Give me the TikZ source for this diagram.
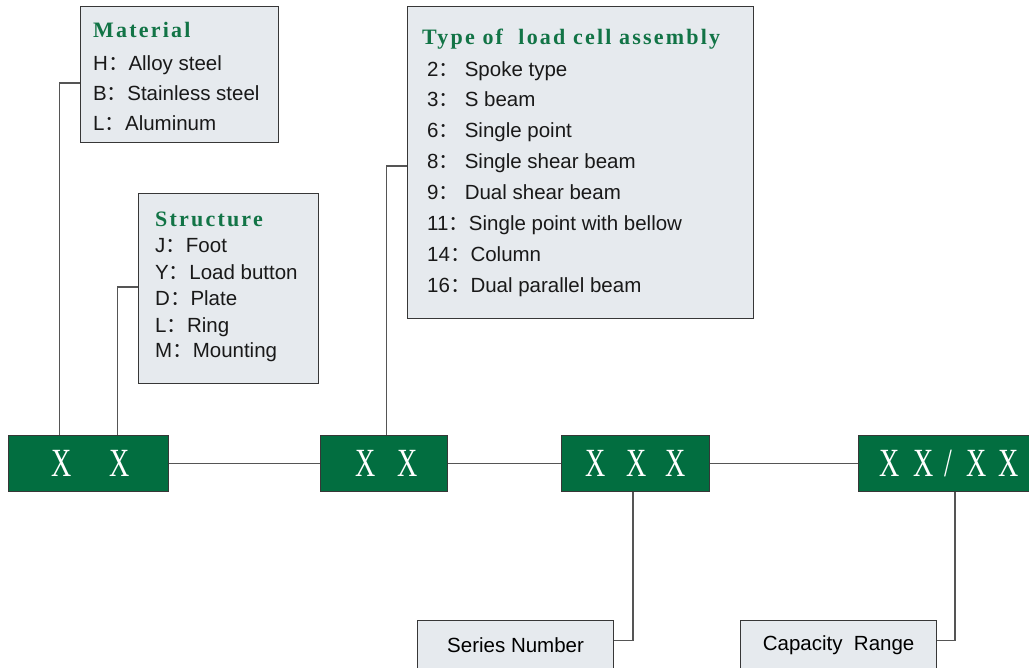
\documentclass[tikz,border=0pt]{standalone}
\usepackage{fontspec}
\setmainfont{Liberation Sans}
\newfontfamily\headfont[LetterSpace=10]{Liberation Serif}
\newfontfamily\codefont[FakeStretch=0.7]{Liberation Serif}
\newfontfamily\cjk{Noto Sans CJK SC}
\newcommand{\sep}{{\cjk ：}}

\definecolor{cellgreen}{RGB}{2,110,64}
\definecolor{headgreen}{RGB}{18,116,70}
\definecolor{panelgray}{RGB}{230,234,238}
\definecolor{edgegray}{RGB}{55,55,55}
\definecolor{linkgray}{RGB}{85,85,85}

\tikzset{
  panel/.style={draw=edgegray, fill=panelgray, line width=1.2pt, inner sep=0pt, anchor=north west},
  codebox/.style={draw=edgegray, fill=cellgreen, line width=1.2pt, inner sep=0pt, anchor=north west,
    minimum height=56pt, text=white, font=\codefont\fontsize{40}{44}\selectfont},
  link/.style={draw=linkgray, line width=1.4pt},
  head/.style={anchor=base west, inner sep=0pt, text=headgreen, font=\headfont\bfseries\fontsize{22}{26}\selectfont},
  item/.style={anchor=base west, inner sep=0pt, text=black!90, font=\fontsize{20.5}{24}\selectfont}
}

\begin{document}
\begin{tikzpicture}[x=1pt, y=-1pt]
\useasboundingbox (0,0) rectangle (1029,668);

\node[panel, minimum width=198pt, minimum height=136pt] (material) at (80,6) {};
\node[head] (materialhead) at (93,38) {Material};
\node[item] (mat1) at (93,71) {H\sep Alloy steel};
\node[item] (mat2) at (93,101) {B\sep Stainless steel};
\node[item] (mat3) at (93,131) {L\sep Aluminum};

\node[panel, minimum width=180pt, minimum height=190pt] (structure) at (138,193) {};
\node[head] (structurehead) at (155,227) {Structure};
\node[item] (str1) at (155,253) {J\sep Foot};
\node[item] (str2) at (155,280) {Y\sep Load button};
\node[item] (str3) at (155,306) {D\sep Plate};
\node[item] (str4) at (155,333) {L\sep Ring};
\node[item] (str5) at (155,358) {M\sep Mounting};

\node[panel, minimum width=346pt, minimum height=312pt] (type) at (407,6) {};
\node[head] (typehead) at (422,45) {Type of~ load cell assembly};
\node[item] (typ1) at (427,77) {2\sep\ Spoke type};
\node[item] (typ2) at (427,107) {3\sep\ S beam};
\node[item] (typ3) at (427,138) {6\sep\ Single point};
\node[item] (typ4) at (427,169) {8\sep\ Single shear beam};
\node[item] (typ5) at (427,200) {9\sep\ Dual shear beam};
\node[item] (typ6) at (427,231) {11\sep Single point with bellow};
\node[item] (typ7) at (427,262) {14\sep Column};
\node[item] (typ8) at (427,293) {16\sep Dual parallel beam};

\node[codebox, minimum width=160pt] (code1) at (8,435) {\hspace{4pt}X\hspace{38pt}X};
\node[codebox, minimum width=127pt] (code2) at (320,435) {\hspace{5pt}X\hspace{22pt}X};
\node[codebox, minimum width=148pt] (code3) at (561,435) {X\hspace{21pt}X\hspace{19pt}X\hspace{4pt}};
\node[codebox, minimum width=181pt] (code4) at (858,435) {X\hspace{14pt}X\hspace{11pt}/\hspace{14pt}X\hspace{12pt}X};

\node[panel, minimum width=196pt, minimum height=50pt, font=\fontsize{20.5}{24}\selectfont] (series) at (417,620) {Series Number};
\node[panel, minimum width=196pt, minimum height=50pt, font=\fontsize{20.5}{24}\selectfont] (capacity) at (740,620) {Capacity~ Range};

\coordinate (matjoin) at (80,83);
\coordinate (strjoin) at (138,287);
\coordinate (typjoin) at (407,166);

\draw[link] (code1.east) -- (code2.west);
\draw[link] (code2.east) -- (code3.west);
\draw[link] (code3.east) -- (code4.west);
\draw[link] (matjoin) -| ([xshift=-29pt]code1.north);
\draw[link] (strjoin) -| ([xshift=29pt]code1.north);
\draw[link] (typjoin) -| ([xshift=2.5pt]code2.north);
\draw[link] ([xshift=-2.5pt]code3.south) |- ([yshift=5pt]series.east);
\draw[link] ([xshift=6pt]code4.south) |- ([yshift=5pt]capacity.east);
\end{tikzpicture}
\end{document}
